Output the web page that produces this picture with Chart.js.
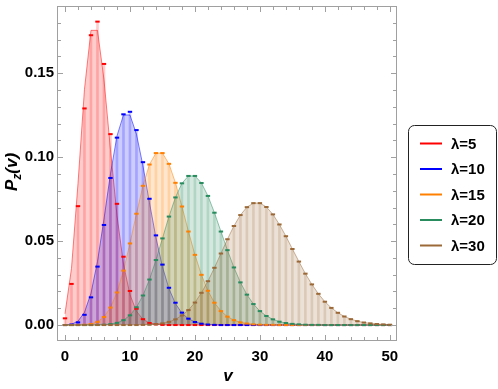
<!DOCTYPE html>
<html>
<head>
<meta charset="utf-8">
<script src="https://cdn.jsdelivr.net/npm/chart.js@4.4.1/dist/chart.umd.min.js"></script>
<style>
  html, body { margin: 0; padding: 0; background: #fff; }
</style>
</head>
<body>
<canvas id="myChart" width="498" height="389"></canvas>
<script>
// values, v = 0..50
const curve5 = [0.0067, 0.0337, 0.0842, 0.1404, 0.1755, 0.1755, 0.1462, 0.1044, 0.0653, 0.0363, 0.0181, 0.0082, 0.0034, 0.0013, 0.0005, 0.0002,
  0, 0, 0, 0, 0, 0, 0, 0, 0, 0, 0, 0, 0, 0, 0, 0, 0, 0, 0, 0, 0, 0, 0, 0, 0, 0, 0, 0, 0, 0, 0, 0, 0, 0, 0]
const marks5 = [0.0040, 0.0245, 0.0708, 0.1290, 0.1726, 0.1807, 0.1555, 0.1137, 0.0722, 0.0407, 0.0203, 0.0097, 0.0035, 0.0012, 0.0004, 0.0001,
  0, 0, 0, 0, 0, 0, 0, 0, 0, 0, 0, 0, 0, 0, 0, 0, 0, 0, 0, 0, 0, 0, 0, 0, 0, 0, 0, 0, 0, 0, 0, 0, 0, 0, 0]
const curve10 = [0.0000, 0.0005, 0.0023, 0.0076, 0.0189, 0.0378, 0.0631, 0.0901, 0.1126, 0.1251, 0.1251, 0.1137, 0.0948, 0.0729, 0.0521,
  0.0347, 0.0217, 0.0128, 0.0071, 0.0037, 0.0019, 0.0009, 0.0004, 0.0002, 0.0001,
  0, 0, 0, 0, 0, 0, 0, 0, 0, 0, 0, 0, 0, 0, 0, 0, 0, 0, 0, 0, 0, 0, 0, 0, 0, 0]
const marks10 = [0.0000, 0.0003, 0.0016, 0.0061, 0.0165, 0.0348, 0.0596, 0.0876, 0.1116, 0.1255, 0.1270, 0.1161, 0.0970, 0.0752, 0.0534,
  0.0360, 0.0222, 0.0133, 0.0074, 0.0038, 0.0018, 0.0008, 0.0003, 0.0001, 0.0000,
  0, 0, 0, 0, 0, 0, 0, 0, 0, 0, 0, 0, 0, 0, 0, 0, 0, 0, 0, 0, 0, 0, 0, 0, 0, 0]
const curve15 = [0, 0, 0.0000, 0.0002, 0.0006, 0.0019, 0.0048, 0.0104, 0.0194, 0.0324, 0.0486, 0.0663, 0.0829, 0.0956, 0.1024, 0.1024,
  0.0960, 0.0847, 0.0706, 0.0557, 0.0418, 0.0299, 0.0204, 0.0133, 0.0083, 0.0050, 0.0029, 0.0016, 0.0009, 0.0004, 0.0002, 0.0001, 0.0001,
  0, 0, 0, 0, 0, 0, 0, 0, 0, 0, 0, 0, 0, 0, 0, 0, 0, 0]
const curve20 = [0, 0, 0, 0, 0.0000, 0.0001, 0.0002, 0.0005, 0.0013, 0.0029, 0.0058, 0.0106, 0.0176, 0.0271, 0.0387, 0.0516, 0.0646,
  0.0760, 0.0844, 0.0888, 0.0888, 0.0846, 0.0769, 0.0669, 0.0557, 0.0446, 0.0343, 0.0254, 0.0181, 0.0125, 0.0083, 0.0054, 0.0034,
  0.0020, 0.0012, 0.0007, 0.0004, 0.0002, 0.0001, 0.0001, 0.0000,
  0, 0, 0, 0, 0, 0, 0, 0, 0, 0]
const curve30 = [0, 0, 0, 0, 0, 0, 0, 0, 0, 0, 0, 0.0000, 0.0001, 0.0002, 0.0005, 0.0010, 0.0019, 0.0034, 0.0057, 0.0089, 0.0134,
  0.0192, 0.0261, 0.0341, 0.0426, 0.0511, 0.0590, 0.0655, 0.0702, 0.0726, 0.0726, 0.0703, 0.0659, 0.0599, 0.0529, 0.0453, 0.0378,
  0.0306, 0.0242, 0.0186, 0.0139, 0.0102, 0.0073, 0.0051, 0.0035, 0.0023, 0.0015, 0.0010, 0.0006, 0.0004, 0.0002]

const labels = ['λ=5', 'λ=10', 'λ=15', 'λ=20', 'λ=30']
const xTicks = [0, 10, 20, 30, 40, 50]
const yTicks = [0, 0.05, 0.10, 0.15]

const colors = [[255, 0, 0], [0, 0, 255], [255, 128, 0], [40, 140, 95], [155, 105, 55]]
const curves = [curve5, curve10, curve15, curve20, curve30]
const marks = [marks5, marks10, curve15, curve20, curve30]

const rgba = (c, a) => `rgba(${c[0]},${c[1]},${c[2]},${a})`
const pts = arr => arr.map((y, i) => ({ x: i, y: y }))
const FONT = "'Liberation Sans', Arial, sans-serif"

const datasets = []
labels.forEach((lab, i) => {
  const c = colors[i]
  // filled curve
  datasets.push({
    type: 'line', label: lab, data: pts(curves[i]), order: 300 + (4 - i),
    borderColor: rgba(c, 0.5), borderWidth: 1, backgroundColor: rgba(c, 0.2),
    fill: 'origin', pointRadius: 0, tension: 0
  })
  // stems
  datasets.push({
    type: 'bar', label: lab + ' stems', data: pts(marks[i]), order: 200 + (4 - i),
    backgroundColor: rgba(c, 0.2), barThickness: 2, grouped: false
  })
  // markers
  datasets.push({
    type: 'line', label: lab + ' marks', data: pts(marks[i]), order: 100 + (4 - i),
    showLine: false, pointStyle: 'line', pointRadius: 2.2, pointBorderWidth: 2,
    pointBorderColor: rgba(c, 1), pointBackgroundColor: rgba(c, 1)
  })
})

const frame = {
  id: 'frame',
  afterDraw(chart) {
    const { ctx, chartArea: a, scales: { x, y } } = chart
    ctx.save()
    ctx.strokeStyle = '#a0a0a0'
    ctx.lineWidth = 1
    ctx.strokeRect(a.left + 0.5, a.top + 0.5, a.right - a.left - 1, a.bottom - a.top - 1)
    ctx.beginPath()
    for (let t = 0; t <= 50; t += 2) {
      const px = Math.round(x.getPixelForValue(t)) + 0.5
      const len = t % 10 === 0 ? 6 : 4
      ctx.moveTo(px, a.bottom); ctx.lineTo(px, a.bottom - len)
      ctx.moveTo(px, a.top); ctx.lineTo(px, a.top + len)
    }
    for (let k = 0; k <= 18; k++) {
      const py = Math.round(y.getPixelForValue(k / 100)) + 0.5
      const len = k % 5 === 0 ? 6 : 4
      ctx.moveTo(a.left, py); ctx.lineTo(a.left + len, py)
      ctx.moveTo(a.right, py); ctx.lineTo(a.right - len, py)
    }
    ctx.stroke()

    // axis titles
    ctx.fillStyle = '#000'
    ctx.textBaseline = 'alphabetic'
    ctx.textAlign = 'center'
    ctx.font = 'italic bold 17px ' + FONT
    ctx.fillText('v', 228, 381)

    ctx.save()
    ctx.translate(17, 172)
    ctx.rotate(-Math.PI / 2)
    ctx.textAlign = 'left'
    const big = 'italic bold 17px ' + FONT
    const small = 'italic bold 12px ' + FONT
    ctx.font = big
    const wP = ctx.measureText('P').width
    const wV = ctx.measureText('(v)').width
    ctx.font = small
    const wZ = ctx.measureText('z').width
    let cx = -(wP + wZ + wV) / 2
    ctx.font = big
    ctx.fillText('P', cx, 0)
    cx += wP
    ctx.font = small
    ctx.fillText('z', cx, 4)
    cx += wZ
    ctx.font = big
    ctx.fillText('(v)', cx, 0)
    ctx.restore()

    // legend
    ctx.beginPath()
    ctx.roundRect(408.5, 125.5, 88, 139, 6)
    ctx.strokeStyle = '#222'
    ctx.lineWidth = 1
    ctx.stroke()
    ctx.font = 'bold 15px ' + FONT
    ctx.textAlign = 'left'
    ctx.textBaseline = 'middle'
    labels.forEach((lab, i) => {
      const ly = 143.5 + i * 25.5
      ctx.beginPath()
      ctx.strokeStyle = rgba(colors[i], 1)
      ctx.lineWidth = 2
      ctx.moveTo(420, ly); ctx.lineTo(442, ly)
      ctx.stroke()
      ctx.fillStyle = '#000'
      ctx.fillText(lab, 451, ly + 1)
    })
    ctx.restore()
  }
}

const tickFont = { family: FONT, size: 15, weight: 'bold' }

const ctx = document.getElementById('myChart').getContext('2d')
const myChart = new Chart(ctx, {
  type: 'line',
  data: { datasets: datasets },
  options: {
    responsive: false,
    animation: false,
    devicePixelRatio: 1,
    layout: { padding: { top: 3, right: 101, left: 0, bottom: 0 } },
    plugins: { legend: { display: false }, tooltip: { enabled: false } },
    scales: {
      x: {
        type: 'linear', min: -1.23, max: 51.1, offset: false,
        grid: { display: false, drawTicks: false }, border: { display: false },
        afterBuildTicks: s => { s.ticks = xTicks.map(v => ({ value: v })) },
        afterFit: s => { s.height = 48; s.paddingLeft = 0; s.paddingRight = 0 },
        ticks: { padding: 7, font: tickFont, color: '#000', maxRotation: 0, autoSkip: false, callback: v => String(v) }
      },
      y: {
        type: 'linear', min: -0.0095, max: 0.190,
        grid: { display: false, drawTicks: false }, border: { display: false },
        afterBuildTicks: s => { s.ticks = yTicks.map(v => ({ value: v })) },
        afterFit: s => { s.width = 57; s.paddingTop = 0; s.paddingBottom = 0 },
        ticks: { padding: 3, font: tickFont, color: '#000', autoSkip: false, callback: v => v.toFixed(2) }
      }
    }
  },
  plugins: [frame]
})
</script>
</body>
</html>
